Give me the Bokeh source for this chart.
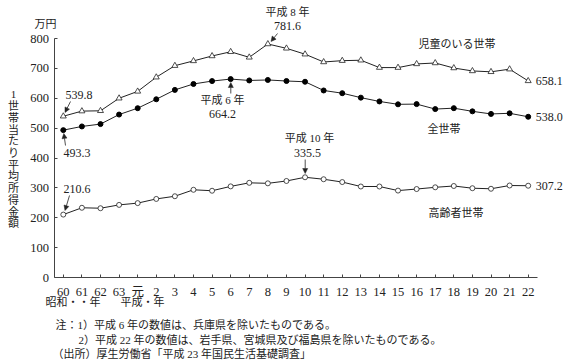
from bokeh.plotting import figure
from bokeh.models import Range1d, FixedTicker, Label, Arrow, NormalHead, LinearAxis
from bokeh.embed import file_html
from bokeh.resources import INLINE

# ---- data ----
x_labels = ["60", "61", "62", "63", "元", "2", "3", "4", "5", "6", "7", "8", "9",
            "10", "11", "12", "13", "14", "15", "16", "17", "18", "19", "20", "21", "22"]
all_households = [493.3, 505.6, 513.5, 545.4, 566.7, 596.6, 628.0, 647.8, 657.5, 664.2,
                  659.6, 661.2, 657.7, 655.2, 626.0, 616.9, 602.0, 589.3, 579.7, 580.4,
                  563.8, 566.8, 556.2, 547.5, 549.6, 538.0]
child_households = [539.8, 557.0, 558.0, 600.0, 623.0, 670.4, 709.0, 725.0, 741.5, 755.5,
                    737.0, 781.6, 767.1, 747.4, 721.4, 725.8, 727.2, 702.7, 702.6, 714.9,
                    718.0, 701.2, 691.4, 688.5, 697.3, 658.1]
elderly_households = [210.6, 233.4, 231.9, 243.0, 249.0, 263.0, 272.0, 293.6, 290.4, 305.0,
                      316.9, 315.2, 323.1, 335.5, 328.9, 319.5, 304.6, 304.6, 290.9, 296.1,
                      301.9, 306.3, 298.9, 297.0, 307.9, 307.2]
y_ticks = [0, 100, 200, 300, 400, 500, 600, 700, 800]
series_names = ["児童のいる世帯", "全世帯", "高齢者世帯"]
y_label_text = "1世帯当たり平均所得金額"
unit_text = "万円"
era_labels = ["昭和・・年", "平成・年"]
notes = ["注：1）平成 6 年の数値は、兵庫県を除いたものである。",
         "2）平成 22 年の数値は、岩手県、宮城県及び福島県を除いたものである。",
         "（出所）厚生労働省「平成 23 年国民生活基礎調査」"]

xs = list(range(len(x_labels)))

FONT = "Liberation Serif, Noto Sans CJK JP"
INK = "#222222"

W, H = 564, 362
OFF = 0  # page offset of the canvas as observed in the rendered picture
# page pixel positions of the axis box (data -0.5..25.5, 0..800)
AX_L, AX_R, AX_T, AX_B = 53.5, 537.0, 38.0, 277.0
XA, XB, YA, YB = -0.5, 25.5, 0.0, 800.0
SX = (AX_R - AX_L) / (XB - XA)
SY = (AX_B - AX_T) / (YB - YA)
x_start = XA - (AX_L - OFF) / SX
x_end = XB + (OFF + W - AX_R) / SX
y_start = YA - (OFF + H - AX_B) / SY
y_end = YB + (AX_T - OFF) / SY


def dx(page_x):
    return XA + (page_x - AX_L) / SX


def dy(page_y):
    return YA + (AX_B - page_y) / SY


p = figure(width=W, height=H, output_backend="svg", toolbar_location=None,
           x_range=Range1d(x_start, x_end), y_range=Range1d(y_start, y_end),
           x_axis_location=None, y_axis_location=None,
           min_border_left=0, min_border_right=0, min_border_top=0, min_border_bottom=0)
p.outline_line_color = None
p.xgrid.visible = False
p.ygrid.visible = False
p.background_fill_color = "white"
p.border_fill_color = "white"

xaxis = LinearAxis(fixed_location=YA, bounds=(XA, XB), ticker=FixedTicker(ticks=xs),
                   major_label_overrides={i: lab for i, lab in enumerate(x_labels)},
                   major_label_standoff=7)
yaxis = LinearAxis(fixed_location=XA, bounds=(YA, YB), ticker=FixedTicker(ticks=y_ticks),
                   major_label_standoff=5)
for ax in (xaxis, yaxis):
    ax.axis_line_color = "#444444"
    ax.axis_line_width = 1
    ax.major_tick_line_color = "#444444"
    ax.major_tick_in = 3
    ax.major_tick_out = 0
    ax.minor_tick_in = 0
    ax.minor_tick_out = 0
    ax.major_label_text_font = FONT
    ax.major_label_text_font_size = "12.5px"
    ax.major_label_text_color = INK
p.add_layout(xaxis, "below")
p.add_layout(yaxis, "left")

# series
p.line(xs, child_households, line_color=INK, line_width=1)
p.scatter(xs, child_households, marker="triangle", size=6, fill_color="white",
          line_color=INK, line_width=0.8)
p.line(xs, all_households, line_color=INK, line_width=1)
p.scatter(xs, all_households, marker="circle", size=5, fill_color="black",
          line_color="black")
p.line(xs, elderly_households, line_color=INK, line_width=1)
p.scatter(xs, elderly_households, marker="circle", size=5, fill_color="white",
          line_color=INK, line_width=0.8)


def label(text, px, py, align="left", size="11px"):
    p.add_layout(Label(x=dx(px), y=dy(py), text=text, text_font=FONT,
                       text_font_size=size, text_color=INK, text_align=align,
                       text_baseline="middle"))


def arrow(x0, y0, x1, y1):
    p.add_layout(Arrow(end=NormalHead(size=5, fill_color=INK, line_color=INK, line_width=0.5),
                       x_start=dx(x0), y_start=dy(y0), x_end=dx(x1), y_end=dy(y1),
                       line_color=INK, line_width=0.8))


# unit and vertical y label
label(unit_text, 45, 23, align="center")
for k, ch in enumerate(y_label_text):
    label(ch, 13, 94 + k * 11.7, align="center", size="11px")

# series names
label(series_names[0], 418, 43)
label(series_names[1], 427, 128)
label(series_names[2], 428, 212)

# end values
last = len(xs) - 1
for series in (child_households, all_households, elderly_households):
    p.add_layout(Label(x=last + 0.4, y=series[-1], text=f"{series[-1]:.1f}",
                       text_font=FONT, text_font_size="12px", text_color=INK,
                       text_align="left", text_baseline="middle"))

# first values
label(f"{child_households[0]:.1f}", 65, 94, size="12px")
arrow(70, 101, 64.5, 112)
label(f"{all_households[0]:.1f}", 63, 152, size="12px")
arrow(65, 145, 63.3, 133)
label(f"{elderly_households[0]:.1f}", 63, 188, size="12px")
arrow(69, 195, 64.5, 210)

# peaks
label("平成 8 年", 287, 11, align="center")
label(f"{child_households[11]:.1f}", 287, 25, align="center", size="12px")
arrow(277, 33, 270.5, 41)
label("平成 6 年", 222, 99, align="center")
label(f"{all_households[9]:.1f}", 222, 113, align="center", size="12px")
arrow(230.3, 93, 230.3, 82)
label("平成 10 年", 309, 137, align="center")
label(f"{elderly_households[13]:.1f}", 307, 152, align="center", size="12px")
arrow(304.7, 159, 304.7, 173)

# era labels
label(era_labels[0], 45, 301)
label(era_labels[1], 120, 301)

# notes
label(notes[0], 55, 324)
label(notes[1], 78, 339)
label(notes[2], 52, 353)

open("out.html", "w").write(file_html(p, INLINE))
